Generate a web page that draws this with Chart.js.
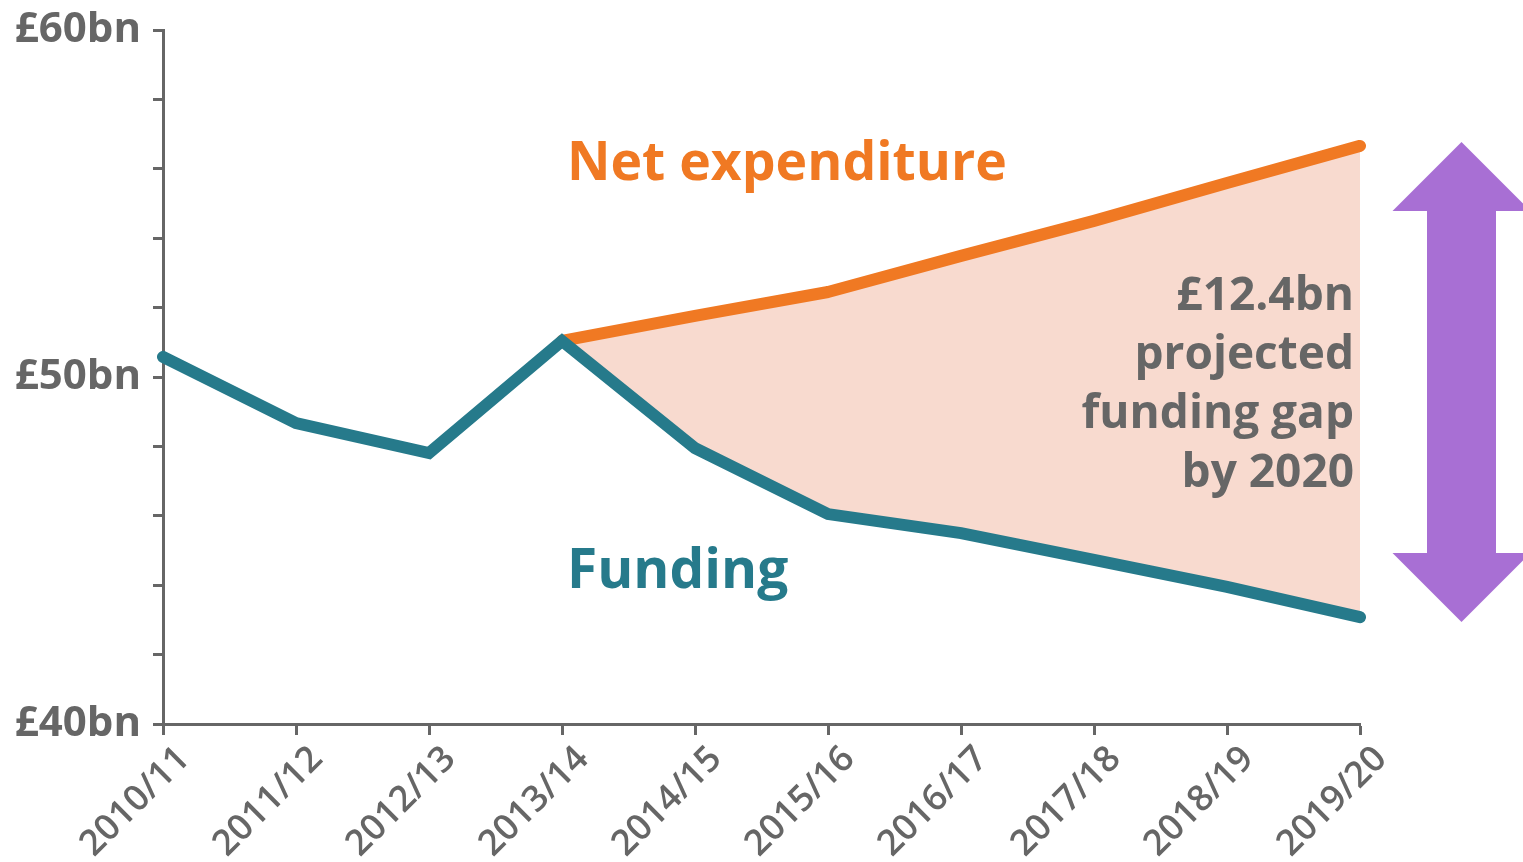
<!DOCTYPE html>
<html>
<head>
<meta charset="utf-8">
<script src="https://cdn.jsdelivr.net/npm/chart.js@4.4.1/dist/chart.umd.min.js"></script>
<style>
  html, body { margin: 0; padding: 0; background: #ffffff; }
  #wrap { width: 1523px; height: 862px; overflow: hidden; }
</style>
</head>
<body>
<div id="wrap"><canvas id="c" width="1523" height="862"></canvas></div>
<script>
// ---- data ----
const categories = ['2010/11', '2011/12', '2012/13', '2013/14', '2014/15', '2015/16', '2016/17', '2017/18', '2018/19', '2019/20'];
const funding = [50.58, 48.67, 47.81, 51.04, 47.95, 46.05, 45.5, 44.73, 43.95, 43.08];
const netExpenditure = [null, null, null, 51.04, 51.76, 52.45, 53.49, 54.5, 55.59, 56.66];
const yLabelValues = [40, 50, 60];
const yLabelText = ['£40bn', '£50bn', '£60bn'];
const seriesNames = ['Funding', 'Net expenditure'];
const gapText = ['£12.4bn', 'projected', 'funding gap', 'by 2020'];

const GREY = '#666666';
const TEAL = '#267a8b';
const ORANGE = '#f07923';
const FILL = '#f8dacf';
const PURPLE = '#a86fd4';
const FONT = '"Open Sans", "Noto Sans", sans-serif';

const annotations = {
  id: 'annotations',
  afterDatasetsDraw(chart) {
    const ctx = chart.ctx;
    const x = chart.scales.x, y = chart.scales.y;
    const last = categories.length - 1;
    ctx.save();
    // series labels
    ctx.textAlign = 'left';
    ctx.textBaseline = 'alphabetic';
    ctx.font = '700 53.5px ' + FONT;
    ctx.fillStyle = ORANGE;
    ctx.fillText(seriesNames[1], x.getPixelForValue(3) + 5, 180);
    ctx.font = '700 55px ' + FONT;
    ctx.fillStyle = TEAL;
    ctx.fillText(seriesNames[0], x.getPixelForValue(3) + 5, 588);
    // gap text
    ctx.font = '700 46px ' + FONT;
    ctx.fillStyle = GREY;
    ctx.textAlign = 'right';
    const tx = x.getPixelForValue(last) - 6;
    const baselines = [310, 369, 428, 487];
    gapText.forEach((t, i) => ctx.fillText(t, tx, baselines[i]));
    // double arrow
    const top = y.getPixelForValue(netExpenditure[last]) - 4;
    const bottom = y.getPixelForValue(funding[last]) + 5;
    const cx = 1461.5, headHalf = 69, shaftHalf = 34.5, headH = 69;
    ctx.fillStyle = PURPLE;
    ctx.beginPath();
    ctx.moveTo(cx, top);
    ctx.lineTo(cx + headHalf, top + headH);
    ctx.lineTo(cx + shaftHalf, top + headH);
    ctx.lineTo(cx + shaftHalf, bottom - headH);
    ctx.lineTo(cx + headHalf, bottom - headH);
    ctx.lineTo(cx, bottom);
    ctx.lineTo(cx - headHalf, bottom - headH);
    ctx.lineTo(cx - shaftHalf, bottom - headH);
    ctx.lineTo(cx - shaftHalf, top + headH);
    ctx.lineTo(cx - headHalf, top + headH);
    ctx.closePath();
    ctx.fill();
    ctx.restore();
  }
};

new Chart(document.getElementById('c'), {
  type: 'line',
  data: {
    labels: categories,
    datasets: [
      {
        label: seriesNames[0],
        data: funding,
        borderColor: TEAL,
        borderWidth: 12,
        borderCapStyle: 'round',
        borderJoinStyle: 'miter',
        pointRadius: 0,
        fill: false,
        tension: 0,
        order: 0
      },
      {
        label: seriesNames[1],
        data: netExpenditure,
        borderColor: ORANGE,
        borderWidth: 12,
        borderCapStyle: 'round',
        borderJoinStyle: 'round',
        pointRadius: 0,
        backgroundColor: FILL,
        fill: '-1',
        tension: 0,
        order: 1
      }
    ]
  },
  options: {
    responsive: false,
    animation: false,
    events: [],
    layout: { padding: { top: 30, right: 163, left: 0, bottom: 0 } },
    plugins: {
      legend: { display: false },
      tooltip: { enabled: false },
      filler: { drawTime: 'beforeDatasetsDraw' }
    },
    scales: {
      x: {
        type: 'category',
        offset: false,
        afterFit: (s) => { s.height = 138; },
        border: { display: true, color: GREY, width: 3 },
        grid: { display: true, drawOnChartArea: false, drawTicks: true, tickLength: 11, tickWidth: 3, tickColor: GREY },
        ticks: {
          autoSkip: false,
          minRotation: 45,
          maxRotation: 45,
          labelOffset: 21,
          padding: 3,
          color: GREY,
          font: { family: FONT, size: 36, weight: '600' }
        }
      },
      y: {
        min: 40,
        max: 60,
        afterFit: (s) => { s.width = 163; s.paddingTop = 0; s.paddingBottom = 0; },
        border: { display: true, color: GREY, width: 3 },
        grid: { display: true, drawOnChartArea: false, drawTicks: true, tickLength: 10, tickWidth: 3, tickColor: GREY },
        ticks: {
          stepSize: 2,
          padding: 12,
          color: GREY,
          font: { family: FONT, size: 42, weight: '700' },
          callback: (v) => {
            const i = yLabelValues.indexOf(v);
            return i >= 0 ? yLabelText[i] : '';
          }
        }
      }
    }
  },
  plugins: [annotations]
});
</script>
</body>
</html>
